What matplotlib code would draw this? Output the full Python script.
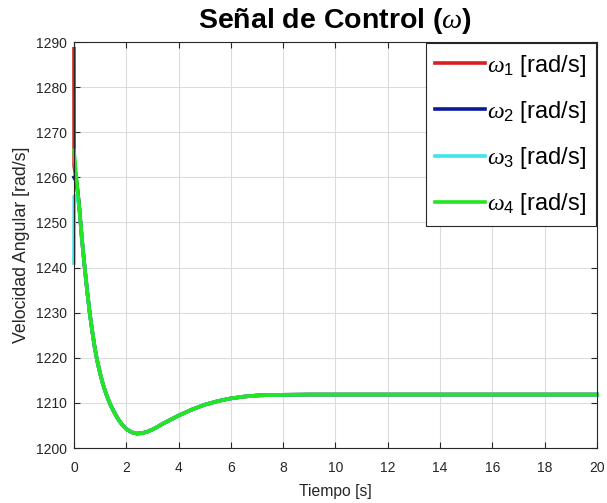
import matplotlib
matplotlib.use("Agg")
import matplotlib.pyplot as plt

plt.rcParams['font.family'] = ['Liberation Sans', 'DejaVu Sans']
plt.rcParams['mathtext.fontset'] = 'custom'
plt.rcParams['mathtext.rm'] = 'Liberation Sans'
plt.rcParams['mathtext.it'] = 'Liberation Serif:italic'
plt.rcParams['mathtext.bf'] = 'Liberation Sans:bold'

# Shared closed-loop response of the rotor speeds (after the initial transient)
t_common = [0.2, 0.3, 0.4, 0.5, 0.6, 0.7, 0.8, 0.9, 1.0, 1.1, 1.2, 1.3, 1.4,
            1.55, 1.7, 1.85, 2.0, 2.2, 2.4, 2.6, 2.8, 3.0, 3.2, 3.4, 3.6,
            3.8, 4.0, 4.5, 5.0, 5.5, 6.0, 6.5, 7.0, 7.5, 8.0, 9.0, 12.0, 20.0]
w_common = [1253.5, 1246.5, 1240.5, 1235.0, 1230.0, 1225.8, 1222.0, 1219.0,
            1216.5, 1214.3, 1212.5, 1210.9, 1209.5, 1207.8, 1206.3, 1205.1,
            1204.2, 1203.5, 1203.2, 1203.3, 1203.6, 1204.1, 1204.7, 1205.4,
            1206.0, 1206.6, 1207.2, 1208.5, 1209.6, 1210.4, 1211.0, 1211.4,
            1211.65, 1211.75, 1211.8, 1211.85, 1211.85, 1211.85]

# Initial transient of each motor
t_w1 = [0.0, 0.005, 0.1]
w_w1 = [1288.5, 1262.5, 1259.0]
t_w2 = [0.0, 0.1]
w_w2 = [1260.0, 1259.0]
t_w3 = [0.0, 0.01, 0.1]
w_w3 = [1241.0, 1255.8, 1256.0]
t_w4 = [0.0, 0.1]
w_w4 = [1266.0, 1259.5]

series = [
    (t_w1, w_w1, '#d91f1f', r'$\omega_1$ [rad/s]'),
    (t_w2, w_w2, '#0a1a9e', r'$\omega_2$ [rad/s]'),
    (t_w3, w_w3, '#3ee6ea', r'$\omega_3$ [rad/s]'),
    (t_w4, w_w4, '#22e622', r'$\omega_4$ [rad/s]'),
]

fig = plt.figure(figsize=(6.07, 5.03), dpi=100)
ax = fig.add_axes([0.1219, 0.1093, 0.8616, 0.8072])

for t0, w0, color, label in series:
    ax.plot(t0 + t_common, w0 + w_common, color=color, lw=2.6, label=label,
            solid_joinstyle='round', clip_on=False)

ax.set_xlim(0, 20)
ax.set_ylim(1200, 1290)
ax.set_xticks(range(0, 21, 2))
ax.set_yticks(range(1200, 1291, 10))
ax.grid(True, color='#dcdcdc', lw=0.8)
ax.set_axisbelow(True)
ax.tick_params(direction='in', top=True, right=True, length=4,
               labelsize=10, colors='#262626', width=0.8)
ax.tick_params(axis='x', pad=9)
ax.tick_params(axis='y', pad=5)
for s in ax.spines.values():
    s.set_color('#262626')
    s.set_linewidth(0.8)

ax.set_xlabel('Tiempo [s]', fontsize=11.3, color='#262626', labelpad=7)
ax.set_ylabel('Velocidad Angular [rad/s]', fontsize=12.8, color='#262626',
              labelpad=4)
ax.set_title(r'Señal de Control ($\omega$)', fontsize=20.5, fontweight='bold',
             pad=10)

leg = ax.legend(loc='upper right', fontsize=17, handlelength=2.1,
                handletextpad=0.12, labelspacing=0.85, borderaxespad=0.05,
                fancybox=False, framealpha=1, edgecolor='#262626',
                borderpad=0.4)
leg.get_frame().set_linewidth(0.8)

fig.savefig('out.png', dpi=100)
